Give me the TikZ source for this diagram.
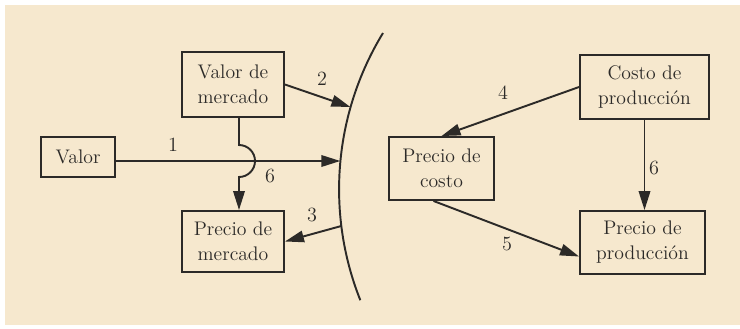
\documentclass[tikz,border=0pt]{standalone}
\usepackage{tikz}
\usetikzlibrary{arrows.meta,calc}
\definecolor{papel}{RGB}{246,232,206}
\definecolor{tinta}{RGB}{44,42,40}
\tikzset{
  caja/.style={draw=tinta,line width=1.1pt,align=center,inner sep=1pt,text=tinta,
    font=\fontsize{11.2}{14.2}\selectfont},
  flecha/.style={draw=tinta,line width=1.1pt,-{Triangle[length=3.8mm,width=2.3mm]}},
  lbl/.style={text=tinta,inner sep=0pt,font=\fontsize{11.5}{14}\selectfont}
}
\begin{document}
\begin{tikzpicture}[x=0.02cm,y=-0.02cm]
      \useasboundingbox (0,0) rectangle (740,328);
      \fill[white] (0,0) rectangle (740,328);
      \fill[papel] (5,5) rectangle (740,325);
      \node[caja,minimum width=1.48cm,minimum height=0.80cm] (valor) at (78,157) {Valor};
      \node[caja,minimum width=2.04cm,minimum height=1.30cm] (vmerc) at (233,84.5) {Valor de\\mercado};
      \node[caja,minimum width=2.04cm,minimum height=1.22cm] (pmerc) at (233,241.5) {Precio de\\mercado};
      \node[caja,minimum width=2.58cm,minimum height=1.28cm] (cprod) at (644.5,87) {Costo de\\producci\'on};
      \node[caja,minimum width=2.10cm,minimum height=1.26cm] (pcost) at (441.5,168.5) {Precio de\\costo};
      \node[caja,minimum width=2.50cm,minimum height=1.26cm] (pprod) at (642.5,242.5) {Precio de\\producci\'on};
      \draw[tinta,line width=1.1pt] (383,33) arc[start angle=211.4,end angle=158.3,radius=300];
      \coordinate (c1) at (340.3,161);
      \coordinate (c2) at (350.4,107);
      \coordinate (c3) at (341.3,226);
      \coordinate (h) at (239,161);
      \draw[flecha] (valor.east |- c1) -- (c1);
      \draw[flecha] (vmerc.east) -- (c2);
      \draw[flecha] (c3) -- (pmerc.east);
      \draw[flecha] (vmerc.south -| h) -- ($(h)+(0,-16)$) arc[start angle=-90,end angle=90,radius=16] -- (pmerc.north -| h);
      \draw[flecha] (cprod.west) -- (pcost.north);
      \draw[flecha] (cprod.south) -- (cprod.south |- pprod.north);
      \draw[flecha] ($(pcost.south)+(-8,0)$) -- ($(pprod.west)+(0,14)$);
      \node[lbl] (l1) at (173,145) {1};
      \node[lbl] (l2) at (322,79) {2};
      \node[lbl] (l3) at (312,215) {3};
      \node[lbl] (l6a) at (270,176) {6};
      \node[lbl] (l4) at (503,93) {4};
      \node[lbl] (l6b) at (654,168) {6};
      \node[lbl] (l5) at (507,244) {5};
\end{tikzpicture}
\end{document}
